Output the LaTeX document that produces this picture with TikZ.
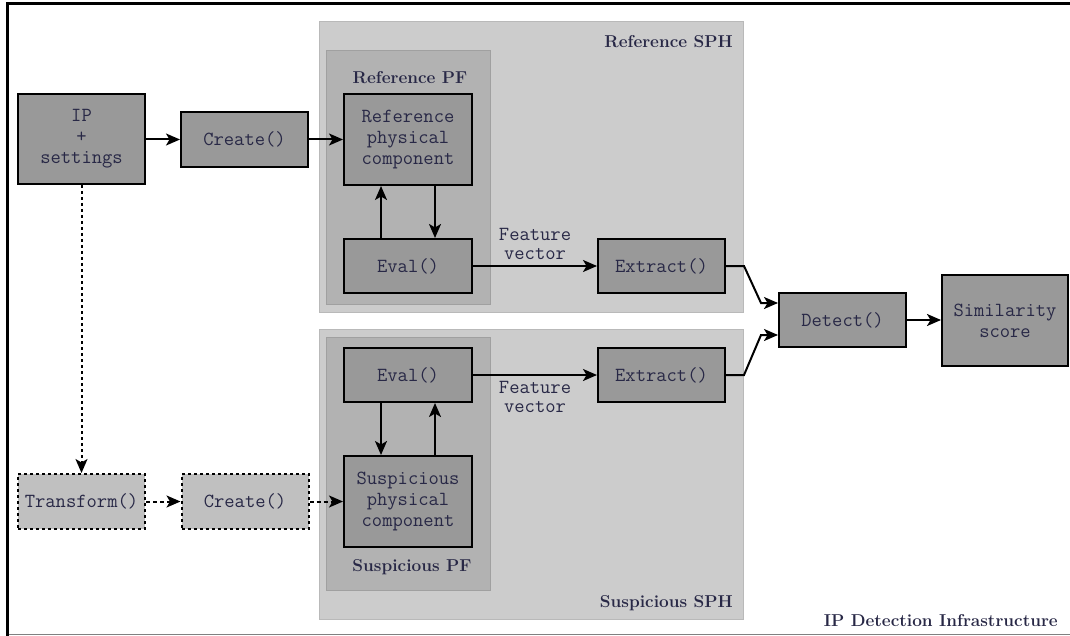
\documentclass[tikz,border=0pt]{standalone}
\usepackage{fontspec}
\usetikzlibrary{arrows.meta}
\definecolor{txt}{RGB}{40,40,70}
\definecolor{boxfill}{RGB}{153,153,153}
\definecolor{dashfill}{RGB}{192,192,192}
\definecolor{sphfill}{RGB}{204,204,204}
\definecolor{sphdraw}{RGB}{185,185,185}
\definecolor{pffill}{RGB}{178,178,178}
\definecolor{pfdraw}{RGB}{160,160,160}
\tikzset{
  fn/.style={draw=black, line width=2pt, fill=boxfill, text=txt, align=center,
    font=\fontsize{20}{21}\selectfont\ttfamily, inner sep=0pt,
    minimum width=127pt, minimum height=54pt},
  fndash/.style={fn, fill=dashfill, dash pattern=on 3pt off 3pt},
  sph/.style={draw=sphdraw, line width=1pt, fill=sphfill, inner sep=0pt},
  pf/.style={draw=pfdraw, line width=1pt, fill=pffill, inner sep=0pt},
  lbl/.style={text=txt, font=\fontsize{17.2}{20}\selectfont\bfseries, inner sep=0pt},
  fv/.style={text=txt, align=center, font=\fontsize{20}{19}\selectfont\ttfamily, inner sep=0pt},
  arr/.style={line width=2pt, -{Stealth[length=14pt,width=12pt,inset=3.5pt]}},
  darr/.style={arr, dash pattern=on 4pt off 3pt},
}
\begin{document}
\begin{tikzpicture}[x=1pt,y=-1pt]
\useasboundingbox (0,0) rectangle (1070,636);
% outer frame
\draw[line width=3pt] (7.5,636) -- (7.5,4) -- (1070,4);
\draw[gray, line width=1pt] (9,634.5) -- (1070,634.5);
% containers
\node[sph, minimum width=424pt, minimum height=290pt] (refsph) at (531,167) {};
\node[pf, minimum width=164pt, minimum height=253pt] (refpf) at (408,177.5) {};
\node[sph, minimum width=424pt, minimum height=290pt] (suspsph) at (531,474) {};
\node[pf, minimum width=164pt, minimum height=253pt] (susppf) at (408,463.5) {};
\node[lbl, anchor=east] (refsphl) at (733,42) {Reference SPH};
\node[lbl] (refpfl) at (410,78) {Reference PF};
\node[lbl] (susppfl) at (412,567) {Suspicious PF};
\node[lbl, anchor=east] (suspsphl) at (733,603) {Suspicious SPH};
\node[lbl, anchor=east] (ipl) at (1058,621) {IP Detection Infrastructure};
% function boxes
\node[fn, minimum height=90pt] (ip) at (81.5,139) {IP\\+\\settings};
\node[fn, minimum height=55pt] (create1) at (244.5,139.5) {Create()};
\node[fn, minimum width=128pt, minimum height=91pt] (rpc) at (408,139.5) {Reference\\physical\\component};
\node[fn, minimum width=128pt] (eval1) at (408,266) {Eval()};
\node[fn] (extract1) at (661.5,266) {Extract()};
\node[fn, minimum width=128pt] (eval2) at (408,375) {Eval()};
\node[fn, minimum width=128pt, minimum height=91pt] (spc) at (408,501.5) {Suspicious\\physical\\component};
\node[fn] (extract2) at (661.5,375) {Extract()};
\node[fndash, minimum height=55pt] (transform) at (81.5,501.5) {Transform()};
\node[fndash, minimum height=55pt] (create2) at (245,501.5) {Create()};
\node[fn] (detect) at (842.5,320) {Detect()};
\node[fn, minimum width=126pt, minimum height=91pt] (sim) at (1005,320.5) {Similarity\\score};
% connectors
\draw[arr] (ip.east |- create1.west) -- (create1.west);
\draw[arr] (create1.east) -- (rpc.west);
\draw[arr] ([xshift=-27pt]eval1.north) -- ([xshift=-27pt]rpc.south);
\draw[arr] ([xshift=27pt]rpc.south) -- ([xshift=27pt]eval1.north);
\draw[arr] (eval1.east) -- node[fv, above=5pt] (fv1) {Feature\\vector} (extract1.west);
\draw[arr] ([xshift=-27pt]eval2.south) -- ([xshift=-27pt]spc.north);
\draw[arr] ([xshift=27pt]spc.north) -- ([xshift=27pt]eval2.south);
\draw[arr] (eval2.east) -- node[fv, below=5pt] (fv2) {Feature\\vector} (extract2.west);
\draw[arr] (extract1.east) -- ++(18,0) -- ([xshift=-17pt,yshift=17pt]detect.west) -- ([yshift=17pt]detect.west);
\draw[arr] (extract2.east) -- ++(18,0) -- ([xshift=-17pt,yshift=-15pt]detect.west) -- ([yshift=-15pt]detect.west);
\draw[arr] (detect.east) -- (sim.west |- detect.east);
\draw[arr, dash pattern=on 3pt off 3pt] (ip.south) -- (transform.north);
\draw[darr] (transform.east) -- (create2.west);
\draw[darr] (create2.east) -- (spc.west);
\end{tikzpicture}
\end{document}
